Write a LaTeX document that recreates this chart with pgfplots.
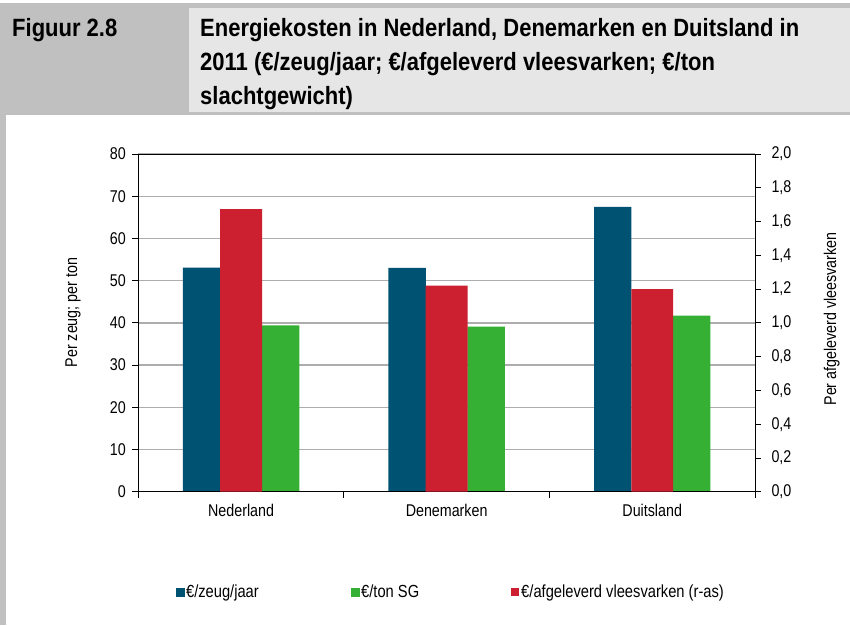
\documentclass[border=0pt]{standalone}
\usepackage{pgfplots}
\pgfplotsset{compat=1.18}
\usepackage{fontspec}
\setmainfont{Liberation Sans}[FakeStretch=0.84]
\newfontfamily\titlefont{Liberation Sans}[FakeStretch=0.88]
\definecolor{cblue}{HTML}{005272}
\definecolor{cred}{HTML}{CC1F2F}
\definecolor{cgreen}{HTML}{35B035}
\definecolor{hdark}{HTML}{C0C0C0}
\definecolor{hlight}{HTML}{E6E6E6}
\definecolor{gridc}{HTML}{ADADAD}
\begin{document}
\begin{tikzpicture}[x=1pt,y=1pt]
\path[use as bounding box] (0,0) rectangle (850,625);
\fill[white] (0,0) rectangle (850,625);
\fill[hdark] (0,510) rectangle (850,622);
\fill[hlight] (189,513) rectangle (850,617);
\fill[hdark] (0,0) rectangle (6,510);
\begin{scope}[every node/.style={anchor=base west, inner sep=0pt, font=\titlefont\fontsize{25}{29}\selectfont\bfseries}]
\node at (12,588) {Figuur 2.8};
\node at (200,588) {Energiekosten in Nederland, Denemarken en Duitsland in};
\node at (200,554) {2011 (€/zeug/jaar; €/afgeleverd vleesvarken; €/ton};
\node at (200,520) {slachtgewicht)};
\end{scope}
\node[rotate=90, font=\fontsize{17}{20}\selectfont] at (73,312.5) {Per zeug; per ton};
\node[rotate=90, font=\fontsize{17}{20}\selectfont] at (831.7,306) {Per afgeleverd vleesvarken};
\begin{axis}[
 at={(138.3pt,133.3pt)}, anchor=south west, scale only axis,
 width=616.7pt, height=337.7pt,
 xmin=-0.5, xmax=2.5, ymin=0, ymax=80,
 xtick={-0.5,0.5,1.5,2.5}, xticklabels={Nederland,Denemarken,Duitsland},
 x tick label as interval,
 ytick={0,10,20,30,40,50,60,70,80},
 ytick pos=left, xtick pos=bottom,
 tick align=outside, major tick length=6pt,
 ymajorgrids, grid style={gridc, line width=1.3pt},
 axis line style={-, black, line width=1pt}, tick style={black, line width=0.8pt},
 ticklabel style={font=\fontsize{17}{20}\selectfont},
 yticklabel style={xshift=-3pt},
 xticklabel style={yshift=-3pt},
 /pgf/number format/assume math mode=true,
]
\addplot[ybar, fill=cblue, draw=none, bar width=0.182, bar shift=-0.192] coordinates {(0,53.1) (1,53.0) (2,67.5)};
\addplot[ybar, fill=cgreen, draw=none, bar width=0.182, bar shift=0.192] coordinates {(0,39.4) (1,39.1) (2,41.7)};
\end{axis}
\begin{axis}[
 at={(138.3pt,133.3pt)}, anchor=south west, scale only axis,
 width=616.7pt, height=337.7pt,
 xmin=-0.5, xmax=2.5, ymin=0, ymax=2,
 axis y line*=right, axis x line*=bottom, xtick=\empty,
 ytick={0,0.2,0.4,0.6,0.8,1.0,1.2,1.4,1.6,1.8,2.0},
 tick align=outside, major tick length=6pt,
 axis line style={-, black, line width=1pt}, tick style={black, line width=0.8pt},
 ticklabel style={font=\fontsize{17}{20}\selectfont},
 yticklabel style={xshift=7pt, /pgf/number format/.cd, fixed, fixed zerofill, precision=1, use comma},
 /pgf/number format/assume math mode=true,
 legend columns=3,
 legend style={at={(0.0603,-0.297)}, anchor=west, draw=none, fill=none, inner sep=0pt,
   font=\fontsize{17.5}{20}\selectfont,
   /tikz/every even column/.append style={column sep=90pt}},
]
\addlegendimage{legend image code/.code={\fill[cblue] (0pt,-4pt) rectangle (8pt,4pt);}}
\addlegendimage{legend image code/.code={\fill[cgreen] (0pt,-4pt) rectangle (8pt,4pt);}}
\addplot[ybar, fill=cred, draw=none, bar width=0.204, bar shift=0,
  legend image code/.code={\fill[cred] (0pt,-4pt) rectangle (8pt,4pt);}]
  coordinates {(0,1.673) (1,1.22) (2,1.20)};
\legend{€/zeug/jaar, €/ton SG, €/afgeleverd vleesvarken (r-as)}
\end{axis}
\end{tikzpicture}
\end{document}
